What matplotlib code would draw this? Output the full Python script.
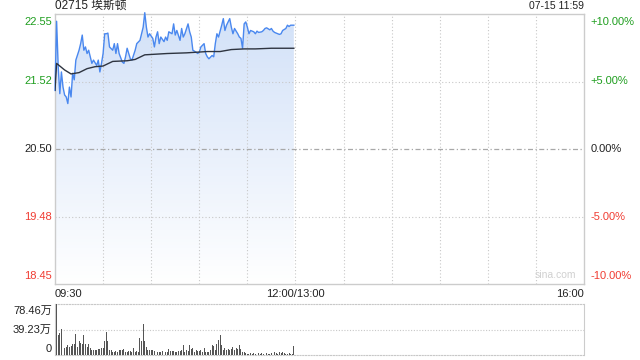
import numpy as np
import matplotlib
matplotlib.use("Agg")
import matplotlib.pyplot as plt

plt.rcParams['font.family'] = ['Liberation Sans', 'Noto Sans CJK SC', 'DejaVu Sans']

title = "02715 埃斯顿"
stamp = "07-15 11:59"
prev_close = 20.50

# minutes after 09:30 (lunch break removed), price
minutes = [0, 1, 2, 3, 4, 5, 6, 7, 8, 9, 10, 11, 12, 13, 15, 16, 17, 18, 19, 20,
           21, 22, 23, 24, 26, 27, 28, 29, 30, 31, 32, 33, 34, 36, 37, 38, 39, 40, 42, 43,
           44, 45, 46, 47, 48, 50, 51, 53, 54, 55, 56, 57, 58, 59, 61, 62, 63, 64, 65, 66,
           68, 69, 70, 71, 73, 74, 75, 76, 78, 79, 80, 81, 83, 84, 85, 86, 88, 89, 90, 91,
           93, 94, 95, 96, 98, 99, 100, 101, 102, 104, 105, 106, 107, 109, 110, 111, 112, 114, 115, 116,
           117, 118, 119, 120, 121, 122, 124, 125, 126, 127, 129, 130, 131, 132, 134, 135, 136, 137, 139, 140,
           141, 142, 144, 145, 146, 147, 149]
price = [21.39, 22.44, 21.75, 21.34, 21.67, 21.44, 21.32, 21.29, 21.19, 21.44, 21.29, 21.65, 21.55, 21.85, 22.00, 22.10, 22.23, 22.00, 22.05, 21.95,
         22.00, 21.90, 21.80, 21.85, 21.77, 21.85, 21.67, 21.80, 21.95, 22.25, 22.25, 22.26, 22.05, 22.00, 22.10, 21.95, 22.10, 21.95, 21.82, 21.80,
         21.90, 22.03, 21.95, 21.87, 21.85, 22.00, 22.10, 22.15, 22.25, 22.35, 22.57, 22.35, 22.20, 22.25, 22.18, 22.05, 22.20, 22.28, 22.10, 22.20,
         22.13, 22.20, 22.15, 22.28, 22.25, 22.40, 22.23, 22.30, 22.15, 22.33, 22.20, 22.25, 22.40, 22.28, 22.20, 22.00, 21.97, 21.95, 21.97, 22.05,
         22.10, 21.95, 21.90, 21.87, 21.92, 21.90, 22.10, 22.25, 22.20, 22.38, 22.48, 22.30, 22.38, 22.48, 22.35, 22.25, 22.33, 22.25, 22.20, 22.18,
         22.03, 22.40, 22.43, 22.35, 22.25, 22.30, 22.28, 22.25, 22.29, 22.27, 22.28, 22.30, 22.33, 22.34, 22.31, 22.33, 22.29, 22.27, 22.25, 22.24,
         22.25, 22.30, 22.33, 22.38, 22.36, 22.38, 22.38]

avg_minutes = [0, 1, 3, 6, 10, 15, 20, 25, 30, 36, 45, 50, 56, 70, 82, 95, 103, 110, 118, 125, 135, 149]
avg_price = [21.39, 21.80, 21.76, 21.70, 21.64, 21.66, 21.72, 21.75, 21.76, 21.83, 21.84, 21.86, 21.93, 21.95, 21.96, 21.98, 21.98, 22.01, 22.02, 22.02, 22.03, 22.03]

# volume per minute, in 万
volume = [59.8, 78.5, 31, 34, 40, 15.6, 10, 12, 15.6, 12, 14, 17, 17, 33, 12, 21, 19, 17, 30, 17,
          13, 17, 10, 8, 7, 8, 7, 9, 9, 10, 10, 21, 36, 21, 8, 7, 5, 5, 6, 4,
          8, 7, 8, 9, 5, 4, 6, 6, 5, 11, 5, 6, 5, 26, 21, 48, 21, 12, 7, 8,
          7, 8, 6, 8, 4, 5, 5, 6, 4, 5, 4, 9, 6, 6, 6, 5, 5, 6, 6, 8,
          16, 5, 8, 6, 16, 9, 10, 5, 8, 6, 6, 7, 5, 10, 4, 5, 5, 8, 16, 14,
          8, 17, 23, 31, 16, 8, 10, 7, 9, 8, 9, 12, 8, 10, 9, 16, 9, 5, 4, 3,
          2, 2, 3, 2, 3, 2, 8, 3, 2, 3, 2, 2, 3, 2, 2, 3, 2, 4, 3, 2,
          4, 3, 4, 3, 2, 2, 3, 2, 2, 14]
vol_max = 78.46

tick_pos = [0, 150, 330]
tick_lab = ["09:30", "12:00/13:00", "16:00"]
grid_x = [30, 60, 90, 120, 150, 180, 210, 240, 270, 300]
pct_levels = [0.10, 0.05, 0.0, -0.05, -0.10]
pct_labels = ["+10.00%", "+5.00%", "0.00%", "-5.00%", "-10.00%"]
price_labels = ["22.55", "21.52", "20.50", "19.48", "18.45"]

green = "#1f9e1f"
red = "#f03c32"
border = "#cccccc"

fig = plt.figure(figsize=(6.4, 3.6), dpi=100)
ax = fig.add_axes([55 / 640, 76 / 360, 529 / 640, 270 / 360])
vax = fig.add_axes([55 / 640, 5 / 360, 529 / 640, 51 / 360])

lo, hi = prev_close * 0.9, prev_close * 1.1
ax.set_xlim(0, 330)
ax.set_ylim(lo, hi)

# gradient fill under price
xs = np.array(minutes)
ys = np.array(price)
poly = ax.fill_between(xs, ys, lo, color="none")
grad = np.linspace(0, 1, 256).reshape(-1, 1)
cmap = matplotlib.colors.LinearSegmentedColormap.from_list("g", ["#ffffff", "#d2e1f8"])
img = ax.imshow(grad, extent=[0, 330, lo, hi], origin="lower", aspect="auto", cmap=cmap, zorder=1)
img.set_clip_path(poly.get_paths()[0], transform=ax.transData)

for gx in grid_x:
    ax.axvline(gx, color="#c8c8c8", lw=0.8, ls=(0, (1, 2)), zorder=2)
for p in pct_levels[1:-1]:
    lvl = prev_close * (1 + p)
    if p == 0:
        ax.axhline(lvl, color="#a8a8a8", lw=0.9, ls=(0, (4, 2, 1, 2)), zorder=2)
    else:
        ax.axhline(lvl, color="#c8c8c8", lw=0.8, ls=(0, (1, 2)), zorder=2)

ax.plot(xs, ys, color="#4a88ef", lw=1.0, zorder=4, clip_on=False)
ax.plot(avg_minutes, avg_price, color="#2e3440", lw=1.0, zorder=5)

for s in ax.spines.values():
    s.set_color(border)
    s.set_linewidth(1.0)
ax.set_xticks([])
ax.set_yticks([])

colors = [green, green, "#222222", red, red]
vas = ["top", "center", "center", "center", "bottom"]
offs = [-0.012, 0, 0, 0, 0.012]
for p, pl, ql, c, va, o in zip(pct_levels, price_labels, pct_labels, colors, vas, offs):
    yv = (p + 0.10) / 0.20 + o
    ax.text(-0.006, yv, pl, transform=ax.transAxes, ha="right", va=va, color=c, fontsize=8)
    ax.text(1.012, yv, ql, transform=ax.transAxes, ha="left", va=va, color=c, fontsize=8)

aligns = ["left", "center", "right"]
for tp, tl, al in zip(tick_pos, tick_lab, aligns):
    ax.text(tp, -0.018, tl, transform=ax.get_xaxis_transform(), ha=al, va="top",
            fontsize=8, color="#222222")

ax.text(0, 1.01, title, transform=ax.transAxes, ha="left", va="bottom", fontsize=8.5, color="#222222")
ax.text(1, 1.01, stamp, transform=ax.transAxes, ha="right", va="bottom", fontsize=7.5, color="#222222")
ax.text(0.985, 0.015, "sina.com", transform=ax.transAxes, ha="right", va="bottom", fontsize=7.5, color="#d0d0d0")

# volume panel
vax.bar(np.arange(len(volume)), volume, width=0.6, color="#555555", zorder=3)
vax.set_xlim(0, 330)
vax.set_ylim(0, vol_max)
vax.axhline(vol_max / 2, color="#c8c8c8", lw=0.8, ls=(0, (1, 1.5)), zorder=1)
vax.set_xticks([])
vax.set_yticks([])
for k in ["left", "right"]:
    vax.spines[k].set_color(border)
for k in ["top", "bottom"]:
    vax.spines[k].set_color("#c8c8c8")
    vax.spines[k].set_linestyle((0, (1, 1.5)))
    vax.spines[k].set_linewidth(0.8)
vax.text(-0.006, 0.86, "%.2f万" % vol_max, transform=vax.transAxes, ha="right", va="center", fontsize=8, color="#222222")
vax.text(-0.006, 0.5, "%.2f万" % (vol_max / 2), transform=vax.transAxes, ha="right", va="center", fontsize=8, color="#222222")
vax.text(-0.006, 0.12, "0", transform=vax.transAxes, ha="right", va="center", fontsize=8, color="#222222")

fig.savefig("out.png", dpi=100)
